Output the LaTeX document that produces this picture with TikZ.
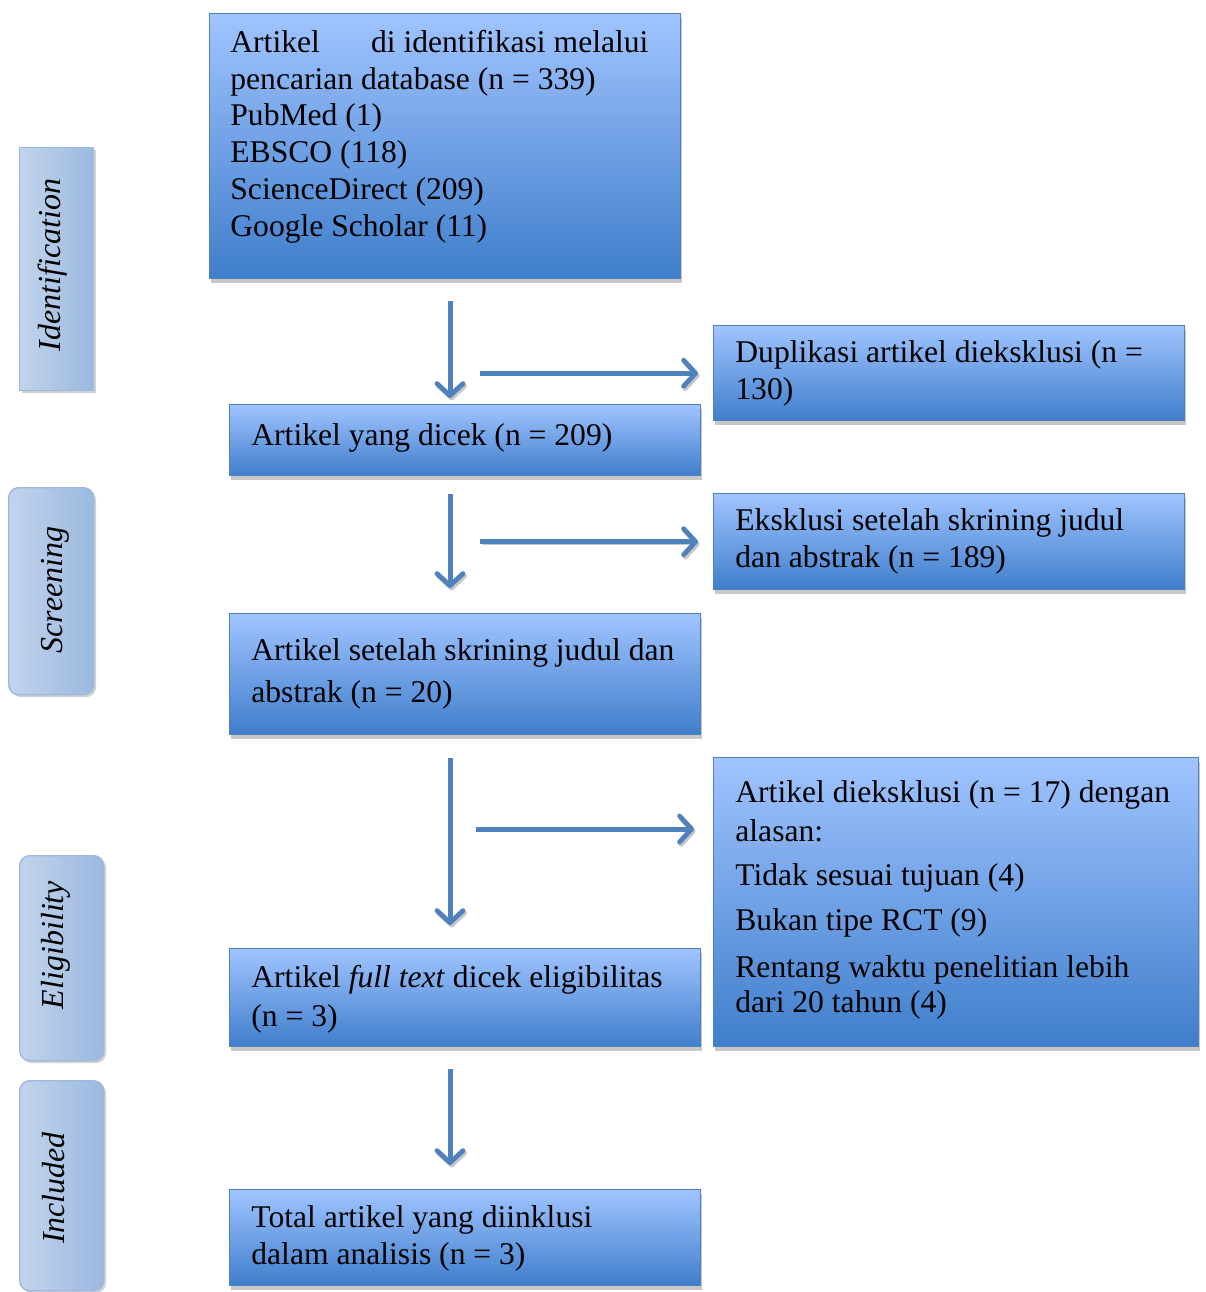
\documentclass[tikz,border=0pt]{standalone}
\usepackage{fontspec}
\setmainfont{Liberation Serif}
\usetikzlibrary{arrows.meta,shadows,calc}
\definecolor{boxtop}{HTML}{A0C4FF}
\definecolor{boxbot}{HTML}{3F7ECB}
\definecolor{boxedge}{HTML}{4F81BD}
\definecolor{arrc}{HTML}{4F81BD}
\definecolor{sidel}{HTML}{C2D4EC}
\definecolor{sidem}{HTML}{E8EFF8}
\definecolor{sider}{HTML}{9BB8DF}
\definecolor{sideedge}{HTML}{9DB8DD}
\tikzset{
  flow/.style={draw=boxedge, line width=0.7pt, top color=boxtop, bottom color=boxbot,
    inner sep=0pt, anchor=north west,
    drop shadow={shadow xshift=0.8pt, shadow yshift=-2pt, fill=black!22, opacity=1}},
  side/.style={draw=sideedge, line width=0.7pt, left color=sidel, middle color=sidem, right color=sider,
    inner sep=0pt, anchor=north west,
    drop shadow={shadow xshift=1.2pt, shadow yshift=-1.2pt, fill=black!18, opacity=1}},
  sidetext/.style={rotate=90, font=\fontsize{16}{18}\selectfont\itshape, inner sep=0pt},
  txt/.style={anchor=base west, align=left, inner sep=0pt, font=\fontsize{15.8}{17.5}\selectfont},
  arr/.style={draw=arrc, line width=2.5pt,
    -{Straight Barb[length=6pt,width=13pt,line width=2.4pt,round]},
    preaction={draw=black!22, transform canvas={xshift=0.8pt,yshift=-1.2pt}}},
}
\begin{document}
\begin{tikzpicture}[x=0.5pt,y=-0.5pt]
\useasboundingbox (0,0) rectangle (1206,1292);
% side labels
\node[side, rounded corners=0pt, minimum width=37pt, minimum height=121.5pt] (L1) at (19,147) {};
\node[side, rounded corners=5pt, minimum width=42.5pt, minimum height=103.5pt] (L2) at (8,487) {};
\node[side, rounded corners=5pt, minimum width=42pt, minimum height=102.5pt] (L3) at (19,855) {};
\node[side, rounded corners=5pt, minimum width=42pt, minimum height=105pt] (L4) at (19,1080) {};
\node[sidetext] (t1) at (53,265) {Identification};
\node[sidetext] (t2) at (55,590) {Screening};
\node[sidetext] (t3) at (56,945) {Eligibility};
\node[sidetext] (t4) at (54,1188) {Included};
% boxes
\node[flow, minimum width=235.5pt, minimum height=132.5pt] (B1) at (209,13) {};
\node[flow, minimum width=235.5pt, minimum height=35.5pt] (B2) at (229,404) {};
\node[flow, minimum width=235.5pt, minimum height=47.5pt] (B3) at (713,325) {};
\node[flow, minimum width=235.5pt, minimum height=48pt] (B4) at (713,493) {};
\node[flow, minimum width=235.5pt, minimum height=60.5pt] (B5) at (229,613) {};
\node[flow, minimum width=235.5pt, minimum height=49pt] (B6) at (229,948) {};
\node[flow, minimum width=242.5pt, minimum height=144.5pt] (B7) at (713,757) {};
\node[flow, minimum width=235.5pt, minimum height=48pt] (B8) at (229,1189) {};
% texts (anchor = baseline of last line)
\node[txt] (x1) at (230,236) {\hbox to 209pt{Artikel\hfill di identifikasi melalui}\\[0.85pt]
  pencarian database (n = 339)\\[0.85pt] PubMed (1)\\[0.85pt] EBSCO (118)\\[0.85pt]
  ScienceDirect (209)\\[0.85pt] Google Scholar (11)};
\node[txt] (x2) at (251,445) {Artikel yang dicek (n = 209)};
\node[txt] (x3) at (735,399) {Duplikasi artikel dieksklusi (n =\\[1pt] 130)};
\node[txt] (x4) at (735,567) {Eksklusi setelah skrining judul\\[1pt] dan abstrak (n = 189)};
\node[txt] (x5) at (251,702) {Artikel setelah skrining judul dan\\[3.5pt] abstrak (n = 20)};
\node[txt] (x6) at (251,1026) {Artikel \textit{full text} dicek eligibilitas\\[2pt] (n = 3)};
\node[txt] (x7) at (735,1012) {Artikel dieksklusi (n = 17) dengan\\[2pt] alasan:\\[4.5pt]
  Tidak sesuai tujuan (4)\\[5pt] Bukan tipe RCT (9)\\[6pt] Rentang waktu penelitian lebih\\ dari 20 tahun (4)};
\node[txt] (x8) at (251,1264) {Total artikel yang diinklusi\\[1pt] dalam analisis (n = 3)};
% arrows
\coordinate (spine) at (450,0);
\coordinate (r3) at (476,829);
\draw[arr, shorten <=11pt, shorten >=3pt] (B1.south -| spine) -- (B2.north -| spine);
\draw[arr, shorten <=9pt, shorten >=12.5pt] (B2.south -| spine) -- (B5.north -| spine);
\draw[arr, shorten <=11.5pt, shorten >=11.5pt] (B5.south -| spine) -- (B6.north -| spine);
\draw[arr, shorten <=11pt, shorten >=12pt] (B6.south -| spine) -- (B8.north -| spine);
\draw[arr, shorten >=7.5pt] ([xshift=15pt]spine |- B3.west) -- (B3.west);
\draw[arr, shorten >=7.5pt] ([xshift=15pt]spine |- B4.west) -- (B4.west);
\draw[arr, shorten >=9.5pt] (r3) -- (B7.west |- r3);
\end{tikzpicture}
\end{document}
